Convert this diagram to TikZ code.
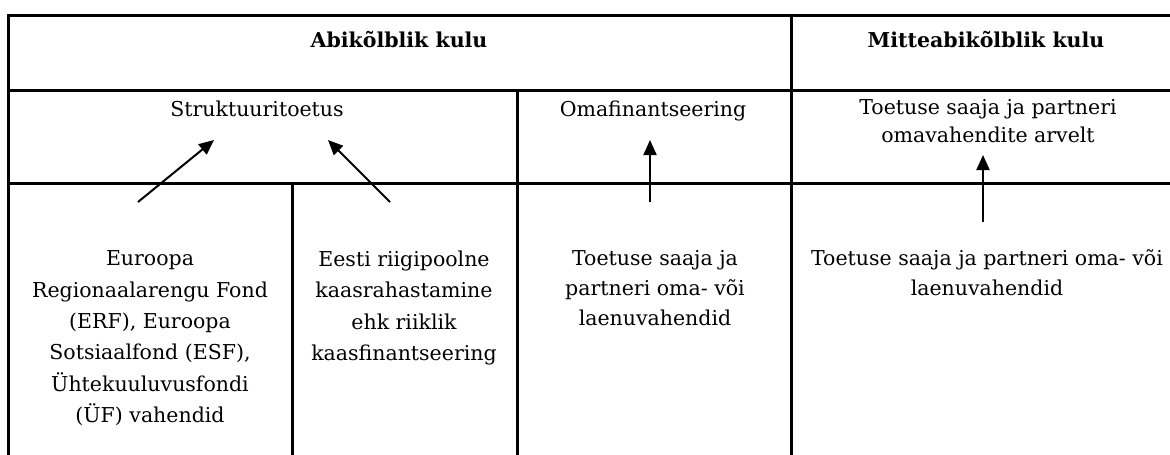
\documentclass[tikz,border=0pt]{standalone}
\usepackage{fontspec}
\setmainfont{DejaVu Serif}
\usetikzlibrary{arrows.meta}
\tikzset{
  rule/.style={line width=3pt, line cap=rect},
  lbl/.style={anchor=base, align=center, inner sep=0pt, font={\fontsize{20.5}{30}\selectfont}},
  toplbl/.style={lbl, anchor=north},
  headlbl/.style={lbl, font={\fontsize{20.5}{30}\selectfont\bfseries}},
  uparrow/.style={-{Triangle[length=15pt,width=13pt]}, line width=2pt}
}
\begin{document}
\begin{tikzpicture}[x=1pt,y=-1pt]
\useasboundingbox (0,0) rectangle (1170,455);

\draw[rule] (8,15) -- (1170,15);
\draw[rule] (8,90) -- (1170,90);
\draw[rule] (8,183) -- (1170,183);
\draw[rule] (8,15) -- (8,455);
\draw[rule] (292,183) -- (292,455);
\draw[rule] (517,90) -- (517,455);
\draw[rule] (791,15) -- (791,455);

\node[headlbl] (abik) at (399,47) {Abikõlblik kulu};
\node[headlbl] (mitte) at (986,47) {Mitteabikõlblik kulu};

\node[lbl] (struk) at (257,116) {Struktuuritoetus};
\node[lbl] (omafin) at (653,116) {Omafinantseering};
\node[toplbl, font={\fontsize{20.5}{28}\selectfont}] (omavah) at (988,99.5) {Toetuse saaja ja partneri\\omavahendite arvelt};

\node[toplbl, font={\fontsize{20.5}{31.4}\selectfont}] (erf) at (150,250.5) {Euroopa\\Regionaalarengu Fond\\(ERF), Euroopa\\Sotsiaalfond (ESF),\\Ühtekuuluvusfondi\\(ÜF) vahendid};
\node[toplbl, font={\fontsize{20.5}{31.4}\selectfont}] (riik) at (404,250.5) {Eesti riigipoolne\\kaasrahastamine\\ehk riiklik\\kaasfinantseering};
\node[toplbl] (omalaen) at (655,250.5) {Toetuse saaja ja\\partneri oma- või\\laenuvahendid};
\node[toplbl] (partlaen) at (987,249.5) {Toetuse saaja ja partneri oma- või\\laenuvahendid};

\coordinate (erfA) at (138,202);
\coordinate (strukL) at (214,140);
\coordinate (riikA) at (390,202);
\coordinate (strukR) at (328,140);
\coordinate (omalaenA) at (650,202);
\coordinate (omafinA) at (650,140);
\coordinate (partlaenA) at (983,222);
\coordinate (omavahA) at (983,155);

\draw[uparrow] (erfA) -- (strukL);
\draw[uparrow] (riikA) -- (strukR);
\draw[uparrow] (omalaenA) -- (omafinA);
\draw[uparrow] (partlaenA) -- (omavahA);
\end{tikzpicture}
\end{document}
